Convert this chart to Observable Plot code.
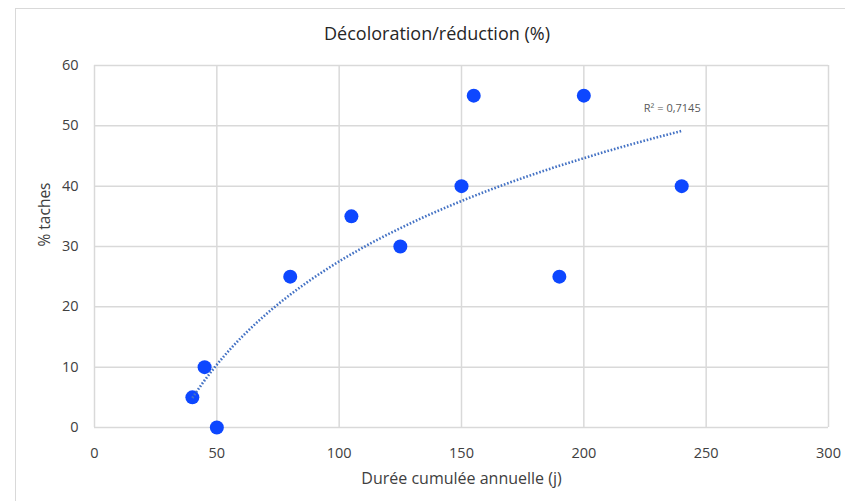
<!DOCTYPE html>
<html>
<head>
<meta charset="utf-8">
<script src="https://cdn.jsdelivr.net/npm/d3@7"></script>
<script src="https://cdn.jsdelivr.net/npm/@observablehq/plot@0.6"></script>
<style>
  html, body { margin: 0; padding: 0; background: #fff; overflow: hidden; }
  body { position: relative; width: 845px; height: 501px; font-family: "Open Sans", sans-serif; }
  #frame { position: absolute; left: 15px; top: 8px; width: 900px; height: 600px;
           border-left: 1.5px solid #d9d9d9; border-top: 1.5px solid #d9d9d9; }
  #title { position: absolute; left: 16px; width: 842px; top: 20px; text-align: center;
           font-size: 18px; color: #262626; line-height: 26px; }
  #chart { position: absolute; left: 0; top: 50px; }
</style>
</head>
<body>
<div id="frame"></div>
<div id="title">Décoloration/réduction (%)</div>
<div id="chart"></div>
<script>
const xDays = [40, 45, 50, 80, 105, 125, 150, 155, 190, 200, 240];
const yPct = [5, 10, 0, 25, 35, 30, 40, 55, 25, 55, 40];
const xTicks = [0, 50, 100, 150, 200, 250, 300];
const yTicks = [0, 10, 20, 30, 40, 50, 60];
const r2Label = "R² = 0,7145";

const points = xDays.map((x, i) => ({x, y: yPct[i]}));

// Logarithmic trendline (least squares on ln x), as Excel computes it
const lx = xDays.map(Math.log);
const mlx = d3.mean(lx), my = d3.mean(yPct);
const a = d3.sum(lx, (v, i) => (v - mlx) * (yPct[i] - my)) / d3.sum(lx, v => (v - mlx) ** 2);
const b = my - a * mlx;
const [x0, x1] = d3.extent(xDays);
const trend = d3.range(x0, x1 + 0.001, 1).map(x => ({x, y: a * Math.log(x) + b}));
const trendEnd = trend[trend.length - 1];

const plot = Plot.plot({
  width: 845,
  height: 451,
  marginLeft: 94,
  marginRight: 17,
  marginTop: 15,
  marginBottom: 74,
  style: {fontFamily: "'Open Sans', sans-serif", fontSize: "14.5px", color: "#404040", background: "transparent"},
  x: {domain: [0, 300]},
  y: {domain: [0, 60]},
  marks: [
    Plot.gridX(xTicks, {stroke: "#d9d9d9", strokeOpacity: 1, strokeWidth: 1.5}),
    Plot.gridY(yTicks, {stroke: "#d9d9d9", strokeOpacity: 1, strokeWidth: 1.5}),
    Plot.axisX({ticks: xTicks, tickSize: 0, tickPadding: 20, label: null, fill: "#404040"}),
    Plot.axisY({ticks: yTicks, tickSize: 0, tickPadding: 16, label: null, fill: "#404040"}),
    Plot.text(["Durée cumulée annuelle (j)"], {frameAnchor: "bottom", dy: 56, fontSize: 16, fill: "#404040"}),
    Plot.text(["% taches"], {frameAnchor: "left", dx: -49, rotate: -90, fontSize: 15.5, fill: "#404040"}),
    Plot.dot(points, {x: "x", y: "y", r: 7, fill: "#0d47ff", stroke: "none"}),
    Plot.line(trend, {x: "x", y: "y", stroke: "#4472c4", strokeWidth: 2.6, strokeDasharray: "1.6 1.8",
                      strokeLinecap: "butt"}),
    Plot.text([trendEnd], {x: "x", y: "y", text: () => r2Label, textAnchor: "end", dx: 19, dy: -22,
                           fontSize: 11, fill: "#595959"})
  ]
});
document.getElementById("chart").appendChild(plot);
</script>
</body>
</html>
